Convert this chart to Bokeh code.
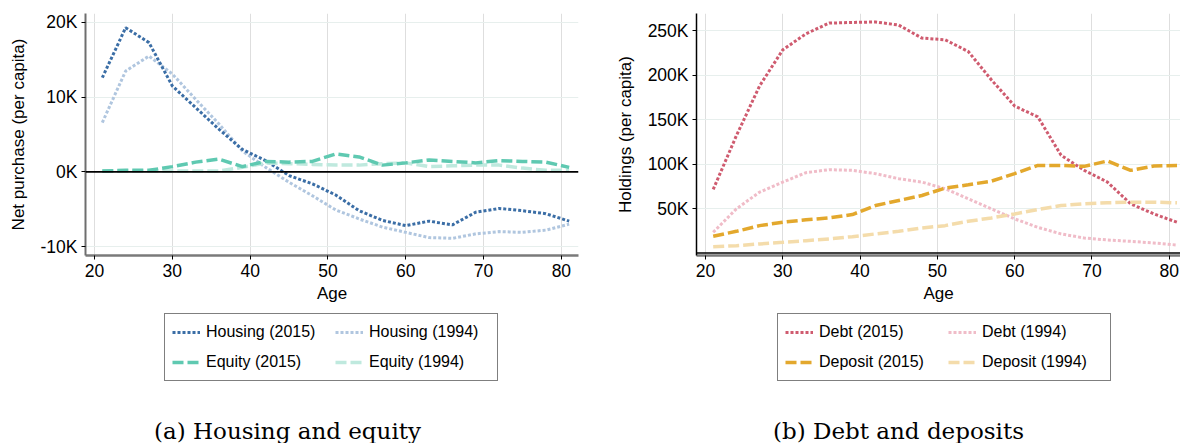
from bokeh.plotting import figure
from bokeh.models import Range1d, FixedTicker, Span, Legend, LegendItem, Label
from bokeh.layouts import row, column
from bokeh.embed import file_html
from bokeh.resources import INLINE

# ---------------- data (values in thousands, per capita) ----------------
ages = [21, 24, 27, 30, 33, 36, 39, 42, 45, 48, 51, 54, 57, 60, 63, 66, 69, 72, 75, 78, 81]

housing_2015 = [12.6, 19.3, 17.3, 11.5, 8.6, 5.7, 3.0, 1.5, -0.5, -1.6, -3.1,
                -5.2, -6.5, -7.2, -6.6, -7.1, -5.4, -4.9, -5.2, -5.6, -6.6]
housing_1994 = [6.6, 13.5, 15.5, 13.1, 9.7, 6.4, 2.8, 0.6, -1.4, -3.2, -5.1,
                -6.3, -7.4, -8.1, -8.8, -8.9, -8.3, -8.0, -8.1, -7.8, -7.0]
equity_2015 = [0.1, 0.2, 0.2, 0.7, 1.3, 1.7, 0.7, 1.4, 1.3, 1.4, 2.4,
               2.0, 0.9, 1.2, 1.6, 1.4, 1.2, 1.5, 1.4, 1.3, 0.6]
equity_1994 = [0.1, 0.1, 0.1, 0.1, 0.1, 0.1, 0.6, 1.2, 1.1, 1.0, 0.9,
               0.9, 1.1, 1.2, 0.7, 0.8, 0.9, 0.9, 0.5, 0.2, 0.2]

debt_2015 = [71.5, 132.0, 188.0, 228.6, 246.7, 258.7, 259.4, 260.0, 256.5, 241.8, 239.9,
             226.7, 194.7, 165.3, 153.2, 110.0, 93.0, 79.8, 55.3, 44.0, 34.6]
debt_1994 = [23.3, 49.7, 68.5, 79.8, 90.4, 93.8, 93.0, 89.3, 83.6, 79.8, 72.3,
             61.0, 49.7, 38.4, 28.9, 21.5, 16.9, 14.7, 13.1, 11.3, 9.0]
deposit_2015 = [18.8, 24.4, 30.8, 34.6, 37.3, 39.5, 43.3, 53.4, 59.1, 64.7, 73.0,
                76.8, 80.9, 89.3, 98.6, 98.6, 97.5, 103.5, 93.0, 97.9, 98.6]
deposit_1994 = [7.1, 8.2, 10.2, 12.0, 13.9, 15.8, 18.4, 21.5, 24.4, 28.2, 30.8,
                35.7, 39.5, 44.0, 48.9, 53.4, 55.4, 56.5, 57.2, 57.2, 56.5]

x_ticks = [20, 30, 40, 50, 60, 70, 80]
left_y_ticks = [-10, 0, 10, 20]
left_y_labels = ["-10K", "0K", "10K", "20K"]
right_y_ticks = [50, 100, 150, 200, 250]
right_y_labels = ["50K", "100K", "150K", "200K", "250K"]

# ---------------- style ----------------
SANS = "Liberation Sans"
SERIF = "DejaVu Serif"
DOT = "3 2"
DASH = "11 4"
NAN = float("nan")


def make_fig(xr, yr, bl, br, ylabel, yticks, ylabels, yaxis_color, yaxis_width):
    p = figure(width=590, height=310, output_backend="svg", toolbar_location=None,
               x_range=Range1d(*xr), y_range=Range1d(*yr),
               min_border_left=bl, min_border_right=br, min_border_top=13,
               min_border_bottom=55)
    p.outline_line_color = None
    p.background_fill_color = "white"
    p.border_fill_color = "white"

    p.xaxis.ticker = FixedTicker(ticks=x_ticks)
    p.yaxis.ticker = FixedTicker(ticks=yticks)
    p.yaxis.major_label_overrides = {t: l for t, l in zip(yticks, ylabels)}
    p.xaxis.axis_label = "Age"
    p.yaxis.axis_label = ylabel
    for ax in (p.xaxis, p.yaxis):
        ax.axis_label_text_font = SANS
        ax.axis_label_text_font_size = "17px"
        ax.axis_label_text_font_style = "normal"
        ax.axis_label_text_color = "black"
        ax.major_label_text_font = SANS
        ax.major_label_text_font_size = "17.5px"
        ax.major_label_text_color = "black"
        ax.major_tick_out = 4
        ax.major_tick_in = 0
        ax.minor_tick_out = 0
        ax.minor_tick_in = 0
        ax.major_tick_line_color = "black"
        ax.major_label_standoff = 4
    p.yaxis.axis_label_standoff = 10
    p.xaxis.axis_label_standoff = 4
    p.yaxis.axis_line_color = yaxis_color
    p.yaxis.axis_line_width = yaxis_width
    p.xaxis.axis_line_color = "#7a7a7a"
    p.xaxis.axis_line_width = 2.5

    p.xgrid.grid_line_color = "#dedede"
    p.xgrid.grid_line_width = 1
    p.ygrid.grid_line_color = "#e7efed"
    p.ygrid.grid_line_width = 1.2

    p.add_layout(Span(location=0, dimension="width", line_color="black", line_width=1.6))
    return p


def make_legend_fig(entries, caption, legend_x, caption_x):
    # frame of this figure is aligned (by the column layout) with the chart frame above
    q = figure(width=590, height=133, output_backend="svg", toolbar_location=None,
               x_range=Range1d(0, 1), y_range=Range1d(0, 1),
               x_axis_location=None, y_axis_location=None,
               min_border_left=0, min_border_right=0, min_border_top=0,
               min_border_bottom=0)
    q.grid.visible = False
    q.outline_line_color = None
    q.border_fill_color = "white"
    items = []
    for label, color, width, dash in entries:
        # legend-key sample only (no data shown)
        r = q.line(x=[0.0, 1.0], y=[NAN, NAN], line_color=color, line_width=width,
                   line_dash=dash)
        items.append(LegendItem(label=label, renderers=[r]))
    leg = Legend(items=items, ncols=2, location=(legend_x, 62),
                 label_text_font=SANS, label_text_font_size="16px",
                 label_text_color="black",
                 glyph_width=28, glyph_height=22, label_height=22, label_width=121,
                 label_standoff=6, spacing=8, padding=7, margin=0,
                 border_line_color="black", border_line_width=1,
                 background_fill_color="white", background_fill_alpha=1)
    q.add_layout(leg, "center")
    q.add_layout(Label(x=caption_x, y=13, x_units="screen", y_units="screen",
                       text=caption, text_align="center", text_baseline="middle",
                       text_font=SERIF, text_font_size="23px", text_color="black"))
    return q


# ---------------- panel (a) ----------------
pa = make_fig((18.84, 82.2), (-11.2, 21.2), 85, 12, "Net purchase (per capita)",
              left_y_ticks, left_y_labels, "#6e6e6e", 2)
pa.line(ages, housing_1994, line_color="#b0c6df", line_width=3, line_dash=DOT)
pa.line(ages, housing_2015, line_color="#3b6ea6", line_width=3, line_dash=DOT)
pa.line(ages, equity_1994, line_color="#bfe9de", line_width=3.5, line_dash=DASH)
pa.line(ages, equity_2015, line_color="#5fc9b1", line_width=3.5, line_dash=DASH)

la = make_legend_fig([("Housing (2015)", "#3b6ea6", 3, DOT),
                      ("Equity (2015)", "#5fc9b1", 3.5, DASH),
                      ("Housing (1994)", "#b0c6df", 3, DOT),
                      ("Equity (1994)", "#bfe9de", 3.5, DASH)],
                     "(a) Housing and equity", 79, 202)

# ---------------- panel (b) ----------------
pb = make_fig((18.84, 81.45), (-2.8, 269.5), 106, 0, "Holdings (per capita)",
              right_y_ticks, right_y_labels, "black", 1.5)
pb.line(ages, debt_1994, line_color="#f0bcc8", line_width=3, line_dash=DOT)
pb.line(ages, debt_2015, line_color="#cf5b6f", line_width=3, line_dash=DOT)
pb.line(ages, deposit_1994, line_color="#f4dcab", line_width=3.5, line_dash=DASH)
pb.line(ages, deposit_2015, line_color="#e3a82d", line_width=3.5, line_dash=DASH)

lb = make_legend_fig([("Debt (2015)", "#cf5b6f", 3, DOT),
                      ("Deposit (2015)", "#e3a82d", 3.5, DASH),
                      ("Debt (1994)", "#f0bcc8", 3, DOT),
                      ("Deposit (1994)", "#f4dcab", 3.5, DASH)],
                     "(b) Debt and deposits", 81, 202)

layout = row(column(pa, la), column(pb, lb))
open("out.html", "w").write(file_html(layout, INLINE))
